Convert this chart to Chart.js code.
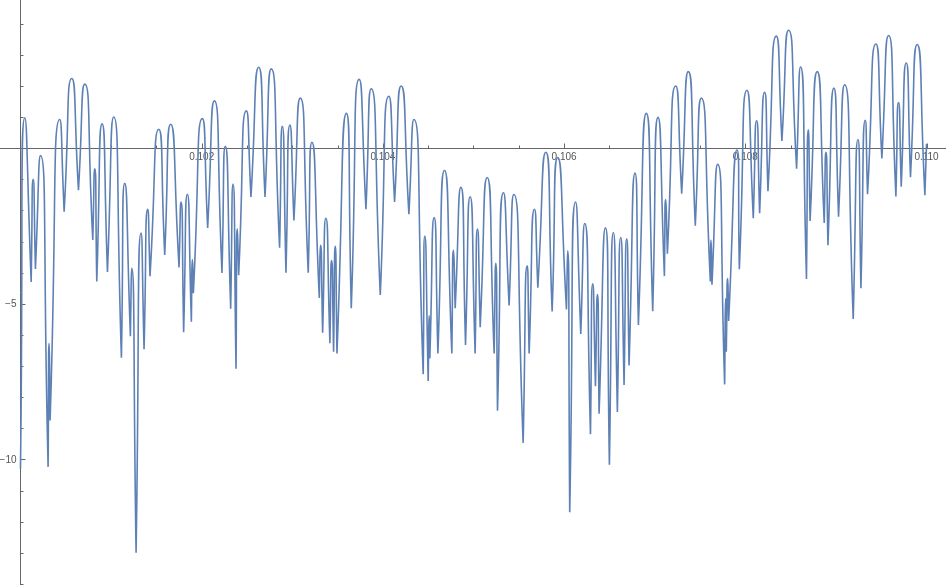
<!DOCTYPE html>
<html>
<head>
<meta charset="utf-8">
<script src="https://cdn.jsdelivr.net/npm/chart.js@4.4.1/dist/chart.umd.min.js"></script>
<style>
  html, body { margin: 0; padding: 0; background: #fff; }
  #wrap { width: 946px; height: 585px; }
</style>
</head>
<body>
<div id="wrap"><canvas id="chart"></canvas></div>
<script>
// arch tops and cusp bottoms, left to right
const xs = [
  0.100000, 0.100048, 0.100118, 0.100140, 0.100165, 0.100221, 0.100305, 0.100316, 0.100327, 0.100434,
  0.100482, 0.100566, 0.100640, 0.100710, 0.100798, 0.100820, 0.100842, 0.100901, 0.100960, 0.101029,
  0.101114, 0.101151, 0.101213, 0.101228, 0.101276, 0.101331, 0.101364, 0.101404, 0.101430, 0.101526,
  0.101592, 0.101658, 0.101750, 0.101772, 0.101801, 0.101842, 0.101886, 0.101897, 0.101908, 0.102007,
  0.102066, 0.102140, 0.102224, 0.102261, 0.102320, 0.102346, 0.102379, 0.102393, 0.102408, 0.102493,
  0.102544, 0.102629, 0.102699, 0.102768, 0.102860, 0.102890, 0.102930, 0.102974, 0.103018, 0.103088,
  0.103176, 0.103217, 0.103298, 0.103312, 0.103335, 0.103371, 0.103415, 0.103434, 0.103456, 0.103474,
  0.103493, 0.103597, 0.103651, 0.103739, 0.103813, 0.103871, 0.103971, 0.104066, 0.104129, 0.104202,
  0.104287, 0.104342, 0.104445, 0.104463, 0.104500, 0.104511, 0.104518, 0.104566, 0.104607, 0.104680,
  0.104761, 0.104779, 0.104798, 0.104861, 0.104912, 0.104963, 0.105018, 0.105044, 0.105074, 0.105151,
  0.105228, 0.105246, 0.105265, 0.105331, 0.105393, 0.105445, 0.105548, 0.105592, 0.105614, 0.105673,
  0.105710, 0.105798, 0.105868, 0.105930, 0.106026, 0.106040, 0.106062, 0.106127, 0.106184, 0.106228,
  0.106291, 0.106316, 0.106346, 0.106368, 0.106386, 0.106456, 0.106500, 0.106544, 0.106588, 0.106625,
  0.106662, 0.106691, 0.106717, 0.106783, 0.106820, 0.106908, 0.106978, 0.107037, 0.107107, 0.107121,
  0.107140, 0.107232, 0.107298, 0.107371, 0.107448, 0.107515, 0.107614, 0.107621, 0.107632, 0.107695,
  0.107772, 0.107783, 0.107790, 0.107805, 0.107816, 0.107908, 0.107934, 0.108018, 0.108088, 0.108125,
  0.108158, 0.108213, 0.108250, 0.108342, 0.108404, 0.108478, 0.108566, 0.108610, 0.108675, 0.108695,
  0.108715, 0.108794, 0.108871, 0.108890, 0.108912, 0.108978, 0.109029, 0.109096, 0.109191, 0.109243,
  0.109276, 0.109324, 0.109349, 0.109441, 0.109507, 0.109581, 0.109662, 0.109691, 0.109721, 0.109776,
  0.109823, 0.109897, 0.109982, 0.110000
]
const ys = [
  -10.3, 0.98, -4.3, -1.0, -3.88, -0.24, -10.24, -6.27, -8.75, 0.92,
  -2.04, 2.24, -1.35, 2.06, -2.95, -0.66, -4.28, 0.78, -3.98, 1.0,
  -6.73, -1.13, -6.04, -3.86, -13.0, -2.73, -6.46, -1.96, -4.11, 0.61,
  -3.43, 0.77, -3.83, -1.73, -5.91, -1.48, -5.58, -3.58, -4.66, 0.95,
  -2.56, 1.52, -4.01, 0.06, -5.16, -1.15, -7.09, -2.59, -4.08, 1.2,
  -1.57, 2.6, -1.57, 2.55, -3.2, 0.7, -4.0, 0.74, -2.32, 1.61,
  -4.0, 0.19, -4.81, -3.12, -5.93, -2.25, -6.27, -3.61, -6.54, -3.15,
  -6.6, 1.12, -5.14, 2.21, -1.96, 1.91, -4.72, 1.67, -1.73, 2.0,
  -2.12, 0.92, -7.26, -2.82, -7.48, -5.38, -6.76, -2.23, -6.6, -0.71,
  -6.6, -3.28, -5.14, -1.26, -6.32, -1.56, -6.6, -2.6, -5.75, -0.94,
  -6.6, -3.7, -8.44, -1.43, -5.05, -1.49, -9.47, -3.78, -6.6, -1.96,
  -4.48, -0.13, -5.25, -0.3, -5.18, -3.3, -11.7, -1.73, -5.97, -2.42,
  -9.19, -4.36, -7.65, -4.7, -8.53, -2.56, -10.17, -2.71, -8.48, -2.87,
  -7.61, -2.91, -6.98, -0.8, -5.68, 1.12, -5.24, 0.99, -4.11, -1.65,
  -3.39, 2.0, -1.46, 2.46, -2.49, 1.61, -4.28, -2.95, -4.39, -0.52,
  -7.59, -4.83, -6.54, -4.19, -5.55, -0.06, -3.89, 1.86, -2.25, 0.88,
  -2.09, 1.8, -1.38, 3.6, 0.23, 3.79, -0.66, 2.61, -4.2, 0.59,
  -2.34, 2.46, -2.4, -0.13, -3.12, 1.93, -2.2, 2.04, -5.49, 0.28,
  -4.5, 0.9, -1.48, 3.35, -0.33, 3.62, -1.55, 1.47, -1.24, 2.74,
  -0.93, 3.33, -1.51, 0.14
]

// ticks
const xMinorTicks = [0.1005, 0.101, 0.1015, 0.102, 0.1025, 0.103, 0.1035, 0.104, 0.1045, 0.105,
  0.1055, 0.106, 0.1065, 0.107, 0.1075, 0.108, 0.1085, 0.109, 0.1095, 0.11]
const xMajorTicks = [0.102, 0.104, 0.106, 0.108, 0.11]
const xTickLabels = ["0.102", "0.104", "0.106", "0.108", "0.110"]
const yMinorTicks = [4, 3, 2, 1, -1, -2, -3, -4, -5, -6, -7, -8, -9, -10, -11, -12, -13, -14]
const yMajorTicks = [-5, -10]
const yTickLabels = ["\u22125", "\u221210"]

const points = []
xs.forEach((x, i) => {
  points.push({ x: x, y: ys[i] })
  // cusp bottoms go in twice so the spline comes into them with a sharp point
  const cusp = i > 0 && i < xs.length - 1 && ys[i] < ys[i - 1] && ys[i] < ys[i + 1]
  if (cusp) points.push({ x: x, y: ys[i] })
})

// Mathematica style axes crossing at (0.1, 0), ticks pointing inwards
const axesPlugin = {
  id: "mathAxes",
  beforeDatasetsDraw(chart) {
    const { ctx, width, height } = chart
    const sx = chart.scales.x
    const sy = chart.scales.y
    const ax = Math.round(sx.getPixelForValue(0.1)) + 0.5
    const ay = Math.round(sy.getPixelForValue(0)) + 0.5

    ctx.save()
    ctx.strokeStyle = "#666666"
    ctx.lineWidth = 1
    ctx.beginPath()
    ctx.moveTo(0, ay)
    ctx.lineTo(width, ay)
    ctx.moveTo(ax, 0)
    ctx.lineTo(ax, height)

    xMinorTicks.forEach((v) => {
      const px = Math.round(sx.getPixelForValue(v)) + 0.5
      const len = xMajorTicks.includes(v) ? 5 : 3
      ctx.moveTo(px, ay)
      ctx.lineTo(px, ay - len)
    })
    yMinorTicks.forEach((v) => {
      const py = Math.round(sy.getPixelForValue(v)) + 0.5
      const len = yMajorTicks.includes(v) ? 5 : 3
      ctx.moveTo(ax, py)
      ctx.lineTo(ax + len, py)
    })
    ctx.stroke()

    ctx.fillStyle = "#555555"
    ctx.font = '10px "Liberation Sans", Arial, sans-serif'
    ctx.textAlign = "center"
    ctx.textBaseline = "top"
    xMajorTicks.forEach((v, i) => {
      ctx.fillText(xTickLabels[i], sx.getPixelForValue(v), ay + 4)
    })
    ctx.textAlign = "right"
    ctx.textBaseline = "middle"
    yMajorTicks.forEach((v, i) => {
      ctx.fillText(yTickLabels[i], ax - 4, sy.getPixelForValue(v) + 0.5)
    })
    ctx.restore()
  },
}

// arch tops are smooth maxima: level the spline's tangent there so it doesn't overshoot
const flatTops = {
  id: "flatTops",
  beforeDatasetsDraw(chart) {
    const meta = chart.getDatasetMeta(0)
    meta.dataset.updateControlPoints(chart.chartArea, "x")
    const pts = meta.data
    pts.forEach((p, i) => {
      const prev = pts[i - 1]
      const next = pts[i + 1]
      if (!prev || !next) return
      if (p.y < prev.y && p.y < next.y) {
        p.cp1y = p.y
        p.cp2y = p.y
      }
    })
  },
}

const ctx = document.getElementById("chart").getContext("2d")

new Chart(ctx, {
  type: "line",
  data: {
    datasets: [
      {
        data: points,
        borderColor: "#5e81b5",
        borderWidth: 1.6,
        pointRadius: 0,
        tension: 0.7,
        fill: false,
      },
    ],
  },
  options: {
    responsive: true,
    maintainAspectRatio: false,
    animation: false,
    layout: { padding: 0 },
    plugins: {
      legend: { display: false },
      tooltip: { enabled: false },
    },
    scales: {
      x: { type: "linear", min: 0.099774, max: 0.110215, display: false },
      y: { type: "linear", min: -14.036, max: 4.762, display: false },
    },
  },
  plugins: [axesPlugin, flatTops],
})
</script>
</body>
</html>
